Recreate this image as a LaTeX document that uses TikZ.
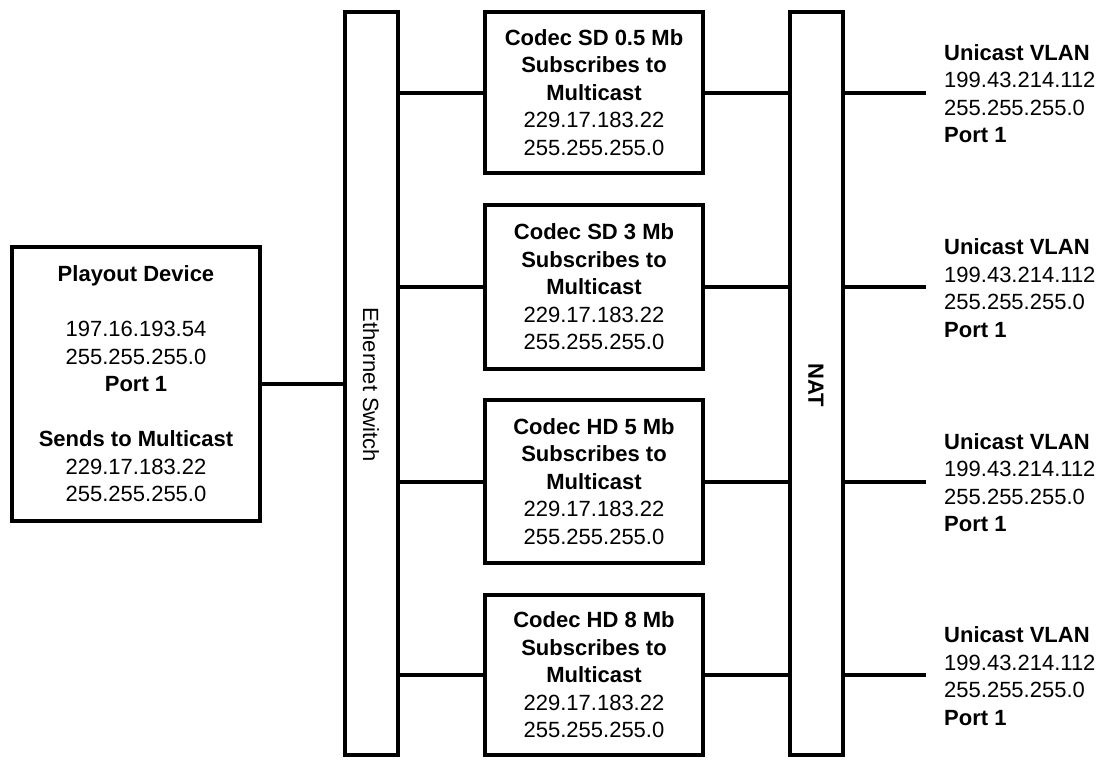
\documentclass[tikz,border=0pt]{standalone}
\usepackage{fontspec}
\setmainfont{Liberation Sans}
\begin{document}
\begin{tikzpicture}[x=1pt,y=-1pt,
  box/.style={draw=black,line width=4pt,rectangle,inner sep=0pt,align=center,
    font=\fontsize{22}{27.5}\selectfont},
  bar/.style={draw=black,line width=4pt,rectangle,inner sep=0pt,minimum width=53pt,minimum height=743pt},
  wire/.style={line width=4pt},
  lab/.style={inner sep=0pt,anchor=west,align=left,font=\fontsize{22}{27.5}\selectfont}]
\useasboundingbox (0,0) rectangle (1104,761);
\fill[white] (0,0) rectangle (1104,761);
% playout
\node[box,minimum width=248pt,minimum height=274pt] (pd) at (136,384) {\textbf{Playout Device}\\[27.5pt]197.16.193.54\\255.255.255.0\\\textbf{Port 1}\\[27.5pt]\textbf{Sends to Multicast}\\229.17.183.22\\255.255.255.0};
% switch and NAT
\node[bar] (sw) at (371.5,383.5) {};
\node[rotate=-90,font=\fontsize{22}{27.5}\selectfont] (swl) at (371,385) {Ethernet Switch};
\node[bar] (nat) at (816,383.5) {};
\node[rotate=-90,font=\fontsize{22}{27.5}\selectfont\bfseries] (natl) at (816,385) {NAT};
% codecs
\node[box,minimum width=218pt,minimum height=161pt] (c1) at (594,92.5) {\textbf{Codec SD 0.5 Mb}\\\textbf{Subscribes to}\\\textbf{Multicast}\\229.17.183.22\\255.255.255.0};
\node[box,minimum width=218pt,minimum height=164pt] (c2) at (594,287) {\textbf{Codec SD 3 Mb}\\\textbf{Subscribes to}\\\textbf{Multicast}\\229.17.183.22\\255.255.255.0};
\node[box,minimum width=218pt,minimum height=163pt] (c3) at (594,481.5) {\textbf{Codec HD 5 Mb}\\\textbf{Subscribes to}\\\textbf{Multicast}\\229.17.183.22\\255.255.255.0};
\node[box,minimum width=218pt,minimum height=160pt] (c4) at (594,675) {\textbf{Codec HD 8 Mb}\\\textbf{Subscribes to}\\\textbf{Multicast}\\229.17.183.22\\255.255.255.0};
% right end points and labels
\foreach \i/\y in {1/92.5,2/287,3/481.5,4/675}{
  \coordinate (e\i) at (926,\y);
  \node[lab] (u\i) at (944,\y+1) {\textbf{Unicast VLAN}\\199.43.214.112\\255.255.255.0\\\textbf{Port 1}};
}
% connectors
\draw[wire] (pd.east) -- (sw.west |- pd.east);
\foreach \i in {1,2,3,4}{
  \draw[wire] (sw.east |- c\i.west) -- (c\i.west);
  \draw[wire] (c\i.east) -- (nat.west |- c\i.east);
  \draw[wire] (nat.east |- e\i) -- (e\i);
}
\end{tikzpicture}
\end{document}
